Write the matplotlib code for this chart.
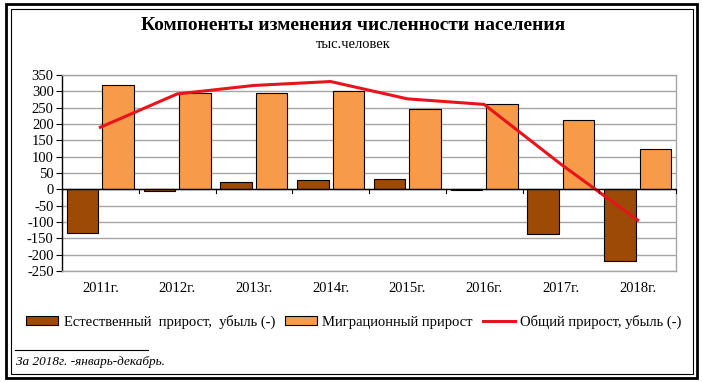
import matplotlib
matplotlib.use("Agg")
import matplotlib.pyplot as plt
import numpy as np
from matplotlib.patches import Rectangle
from matplotlib.lines import Line2D

years = ["2011г.", "2012г.", "2013г.", "2014г.", "2015г.", "2016г.", "2017г.", "2018г."]
natural = [-134, -4, 22, 30, 32, -2, -137, -218]
migration = [319, 295, 296, 300, 245, 262, 212, 124]
total = [190, 292, 318, 330, 277, 260, 77, -94]
yticks = list(range(-250, 351, 50))

plt.rcParams['font.family'] = ['Liberation Serif', 'DejaVu Serif']

W, H = 702, 382
fig = plt.figure(figsize=(W/100, H/100), dpi=100)
fig.patch.set_facecolor('white')

ax = fig.add_axes([62/W, 1 - 271/H, (676-62)/W, (271-75)/H])
x = np.arange(len(years))
bw = 0.41
c_nat = '#9c4a06'
c_mig = '#f79a4a'
ax.bar(x - 0.025 - bw/2, natural, bw, color=c_nat, edgecolor='black', linewidth=0.8, zorder=3)
ax.bar(x + 0.025 + bw/2, migration, bw, color=c_mig, edgecolor='black', linewidth=0.8, zorder=3)
ax.plot(x, total, color='#e8141c', linewidth=2.2, zorder=4)

ax.set_xlim(-0.5, len(years) - 0.5)
ax.set_ylim(-250, 350)
ax.set_yticks(yticks)
ax.set_yticklabels([str(v) for v in yticks], fontsize=10.5)
ax.yaxis.grid(True, color='#a6a6a6', linewidth=1.0, zorder=0)
ax.set_xticks([])
for s in ['top', 'right', 'bottom']:
    ax.spines[s].set_color('#a6a6a6')
    ax.spines[s].set_linewidth(1.0)
ax.spines['left'].set_color('black')
ax.spines['left'].set_linewidth(1.0)
ax.tick_params(axis='y', length=4, width=0.8, pad=2, colors='black')
ax.axhline(0, color='black', linewidth=1.0, zorder=5)
# category ticks on zero line
for k in range(len(years) + 1):
    ax.plot([k - 0.5, k - 0.5], [0, -12], color='black', linewidth=0.8, zorder=5, clip_on=False)
for k, lab in enumerate(years):
    ax.text(k, -285, lab, ha='center', va='top', fontsize=10.5, transform=ax.transData)

fig.text(353/W, 1 - 25/H, "Компоненты изменения численности населения", ha='center', va='center',
         fontsize=14, fontweight='bold')
fig.text(353/W, 1 - 44/H, "тыс.человек", ha='center', va='center', fontsize=10.5)

handles = [Rectangle((0, 0), 1, 1, facecolor=c_nat, edgecolor='black', linewidth=0.8),
           Rectangle((0, 0), 1, 1, facecolor=c_mig, edgecolor='black', linewidth=0.8),
           Line2D([0], [0], color='#e8141c', linewidth=2.2)]
labels = ["Естественный  прирост,  убыль (-)", "Миграционный прирост", "Общий прирост, убыль (-)"]
fig.legend(handles, labels, loc='center', bbox_to_anchor=(354/W, 1 - 322/H), ncol=3, frameon=False,
           fontsize=10.5, handlelength=2.2, handleheight=0.6, columnspacing=0.7, handletextpad=0.35)

fig.add_artist(Line2D([15/W, 148/W], [1 - 350/H, 1 - 350/H], color='black', linewidth=0.8))
fig.text(16/W, 1 - 362/H, "За 2018г. -январь-декабрь.", ha='left', va='center', fontsize=9.5, style='italic')

# double frame
fig.add_artist(Rectangle((6/W, 4/H), 691/W, 374/H, fill=False, edgecolor='black', linewidth=2.0, transform=fig.transFigure))
fig.add_artist(Rectangle((10.5/W, 8.5/H), 682/W, 365/H, fill=False, edgecolor='black', linewidth=0.8, transform=fig.transFigure))

fig.savefig("out.png", dpi=100)
